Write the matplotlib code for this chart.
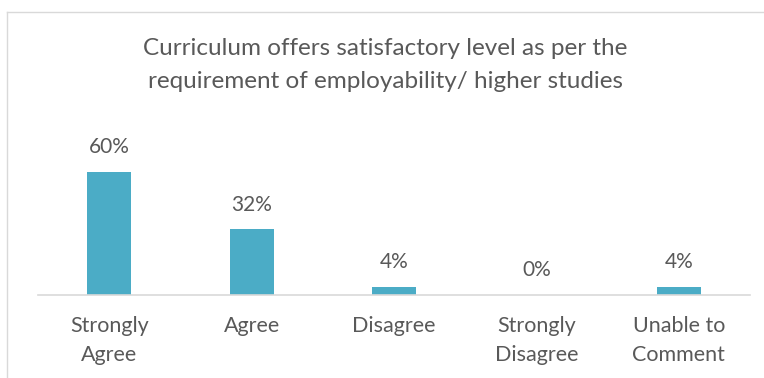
import matplotlib
matplotlib.use("Agg")
import matplotlib.pyplot as plt
from matplotlib.lines import Line2D

categories = ["Strongly\nAgree", "Agree", "Disagree", "Strongly\nDisagree", "Unable to\nComment"]
values = [60, 32, 4, 0, 4]
title = "Curriculum offers satisfactory level as per the\nrequirement of employability/ higher studies"

W, H = 764, 378
fig = plt.figure(figsize=(W / 100, H / 100), dpi=100)
plt.rcParams['font.family'] = ['Lato', 'DejaVu Sans']
text_color = "#595959"

# chart border (top and left visible)
fig.add_artist(Line2D([7 / W, 7 / W], [0, 1 - 12 / H], color="#D9D9D9", lw=1))
fig.add_artist(Line2D([7 / W, 1], [1 - 12 / H, 1 - 12 / H], color="#D9D9D9", lw=1))

left, right = 38, 750
bottom_px, top_px = 295, 151.5
ax = fig.add_axes([left / W, 1 - bottom_px / H, (right - left) / W, (bottom_px - top_px) / H])
x = range(len(categories))
ax.bar(x, values, width=0.31, color="#4BACC6", zorder=2)
ax.set_xlim(-0.5, len(categories) - 0.5)
ax.set_ylim(0, 70)
for s in ["top", "right", "left"]:
    ax.spines[s].set_visible(False)
ax.spines["bottom"].set_color("#D9D9D9")
ax.spines["bottom"].set_linewidth(1.2)
ax.set_yticks([])
ax.set_xticks(list(x))
ax.set_xticklabels(categories, fontsize=15.5, color=text_color, linespacing=1.55)
ax.tick_params(axis="x", length=0, pad=15)
for xi, v in zip(x, values):
    ax.annotate(f"{v}%", (xi, v), xytext=(0, 10.5), textcoords="offset points",
                ha="center", va="bottom", fontsize=15, color=text_color)

fig.text(0.5 * (7 + W) / W, 1 - 65 / H, title, ha="center", va="center",
         fontsize=17.5, color=text_color, linespacing=1.68)

fig.savefig("out.png", dpi=100, facecolor="white")
